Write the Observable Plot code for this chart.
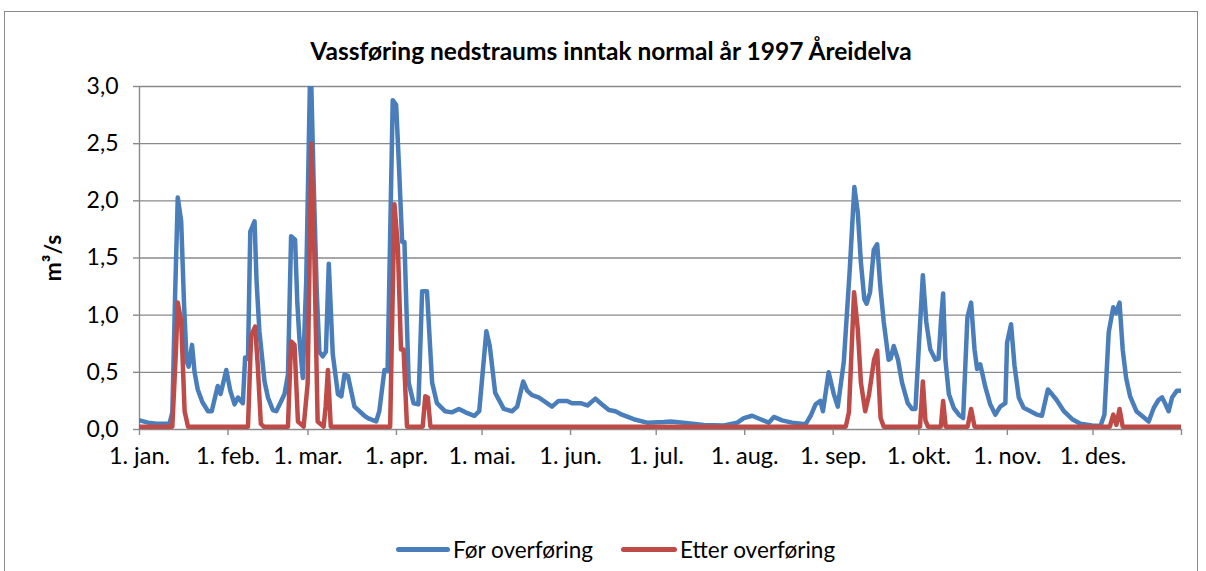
<!DOCTYPE html>
<html><head><meta charset="utf-8">
<script src="https://cdn.jsdelivr.net/npm/d3@7"></script>
<script src="https://cdn.jsdelivr.net/npm/@observablehq/plot@0.6"></script>
<style>
html,body{margin:0;padding:0;background:#fff;}
#wrap{position:relative;width:1206px;height:571px;overflow:hidden;font-family:Lato,"Open Sans",sans-serif;}
#frame{position:absolute;left:4px;top:11px;width:1194px;height:600px;border:1.5px solid #8a8a8a;box-sizing:border-box;}
#title{position:absolute;left:0;width:1222px;top:36px;text-align:center;font-weight:bold;font-size:24.5px;color:#000;}
#ytitle{position:absolute;left:52px;top:258px;transform:translate(-50%,-50%) rotate(-90deg);font-weight:bold;font-size:23px;white-space:nowrap;}
#chart{position:absolute;left:0;top:0;}
#legend{position:absolute;top:535px;left:0;width:1206px;height:28px;font-size:22.5px;}
.item{position:absolute;top:0;display:flex;align-items:center;height:28px;white-space:nowrap;}
.sw{display:inline-block;height:5px;border-radius:3px;margin-right:3px;}
</style></head>
<body><div id="wrap">
<div id="frame"></div>
<div id="chart"></div>
<div id="title">Vassføring nedstraums inntak normal år 1997 Åreidelva</div>
<div id="ytitle">m³/s</div>
<div id="legend"></div>
</div>
<script>
// Day of year (0 = 1. jan.) and flow values
const seriesNames = ["Før overføring", "Etter overføring"];
const seriesColors = ["#4a7ebb", "#be4b48"];

const beforeDays = [0,3,6,10.5,11.5,12.5,13.4,14.6,15.6,16.5,17.2,18.4,19.3,20.4,22,24,25.3,27.4,28.4,30.4,31.8,33.3,34.5,36.2,37,38,38.8,40.3,41,42,43.8,45,46.7,47.9,49.5,50.8,52,53.1,54.5,55.3,56,57.2,58.4,59.9,61,62.1,63,64.2,65.3,66.3,67.7,69.5,70.7,71.8,73,75.3,78.8,80,82.9,84,85.8,86.9,88.7,89.9,90.9,92,92.8,94.3,96,97.7,99,100.7,102.5,104.2,107,109.4,111.9,114.2,117.3,119,121.5,122.7,124.6,127.6,130.5,132.3,134.4,135.8,137.5,139.8,141.6,144.5,146.8,149.8,151.5,154.5,156.9,159.7,161.5,164.4,166.7,169,173.1,177.8,183.7,186,190.5,197.7,204.7,209.4,211.7,214.6,217.5,220.4,222.2,225.1,228.6,233.3,235.1,236.8,238.5,239.4,241.4,243.2,244.6,246.7,248.8,250.4,251.6,252.7,253.9,254.7,255.9,257.2,258.4,259.5,260.7,262.4,263.1,264.2,265.7,267.1,269.1,270.6,271.8,273.2,274.4,275.6,277,278.8,279.9,280.8,281.5,282.3,283.5,285.2,287,288.5,290,291.3,292.5,293.4,294.5,296.3,298,299.8,301.5,303.3,303.9,305.3,306.5,308,309.7,312.1,314.4,316.1,318.2,319.6,321.2,323.8,326.7,329.6,333.7,336.6,338,339.5,341.1,342.1,343.3,344.4,345.6,347,349.2,351.1,353.5,355.3,357,358.2,359.4,360.5,361.7,363.4,364.6];
const beforeValues = [0.08,0.06,0.05,0.05,0.15,1.2,2.03,1.82,1.1,0.6,0.55,0.74,0.5,0.35,0.24,0.16,0.16,0.38,0.31,0.52,0.34,0.22,0.28,0.23,0.63,0.62,1.73,1.82,1.3,0.86,0.42,0.28,0.17,0.16,0.24,0.31,0.48,1.69,1.66,1.1,0.8,0.45,1.3,3.3,2.17,1.2,0.68,0.64,0.68,1.45,0.66,0.31,0.29,0.48,0.47,0.2,0.12,0.1,0.07,0.16,0.52,0.51,2.88,2.84,2.3,1.64,1.64,0.41,0.23,0.22,1.21,1.21,0.41,0.23,0.16,0.15,0.18,0.15,0.12,0.16,0.86,0.73,0.32,0.18,0.16,0.2,0.42,0.34,0.3,0.28,0.25,0.2,0.25,0.25,0.23,0.23,0.21,0.27,0.23,0.17,0.16,0.13,0.09,0.06,0.065,0.07,0.06,0.04,0.035,0.06,0.1,0.12,0.09,0.06,0.11,0.08,0.06,0.045,0.12,0.22,0.25,0.16,0.5,0.31,0.2,0.59,1.4,2.12,1.9,1.46,1.14,1.1,1.2,1.57,1.62,1.25,0.94,0.61,0.62,0.73,0.61,0.41,0.23,0.18,0.18,0.82,1.35,0.94,0.7,0.61,0.62,0.97,1.19,0.61,0.31,0.19,0.13,0.1,0.98,1.11,0.7,0.53,0.57,0.37,0.22,0.13,0.2,0.23,0.76,0.92,0.56,0.28,0.19,0.16,0.13,0.12,0.35,0.31,0.26,0.16,0.09,0.05,0.035,0.03,0.13,0.85,1.07,1.02,1.11,0.7,0.45,0.29,0.16,0.12,0.07,0.19,0.26,0.28,0.22,0.16,0.28,0.34,0.34];

const afterDays = [0,11.5,12.8,13.4,14.6,15.8,17,38,39.1,40.5,41.4,42.5,43.5,52,53.1,54.3,55.5,57.5,58.9,60.2,61.2,62.4,64.5,65.2,66,67,87.8,89.3,90.5,91.6,92.5,93.7,99.2,100.1,101,101.9,247.4,248.5,250.3,251.6,252.7,254.2,255.5,257.3,258.4,259.6,260.7,273.4,274.4,275.3,276.2,280.7,281.5,282.4,290.1,291.3,292.5,339.9,341.1,342.2,343.3,344.4,365];
const afterValues = [0.025,0.025,0.71,1.11,0.95,0.16,0.025,0.025,0.82,0.9,0.57,0.05,0.025,0.025,0.77,0.74,0.07,0.025,0.4,2.5,1.59,0.07,0.025,0.2,0.52,0.025,0.025,1.97,1.6,0.7,0.7,0.025,0.025,0.29,0.28,0.025,0.025,0.15,1.2,0.88,0.41,0.16,0.3,0.61,0.69,0.1,0.025,0.025,0.42,0.08,0.025,0.025,0.25,0.025,0.025,0.18,0.025,0.025,0.13,0.04,0.18,0.025,0.025];

const monthStarts = [0,31,59,90,120,151,181,212,243,273,304,334,365];
const monthLabels = ["1. jan.","1. feb.","1. mar.","1. apr.","1. mai.","1. jun.","1. jul.","1. aug.","1. sep.","1. okt.","1. nov.","1. des.",""];
const yTicks = [0,0.5,1,1.5,2,2.5,3];

const before = beforeDays.map((d,i)=>({day:d, value:beforeValues[i]}));
const after = afterDays.map((d,i)=>({day:d, value:afterValues[i]}));
const labelOf = new Map(monthStarts.map((d,i)=>[d, monthLabels[i]]));
const grid = "#8a8a8a";

const chart = Plot.plot({
  width:1206, height:480,
  marginLeft:139, marginRight:25, marginTop:86, marginBottom:51,
  style:{fontFamily:"Lato, 'Open Sans', sans-serif", fontSize:"23px", color:"#000", background:"transparent"},
  x:{domain:[0,365]},
  y:{domain:[0,3]},
  marks:[
    Plot.ruleY(yTicks, {stroke:grid, strokeWidth:1.4}),
    Plot.axisY({ticks:yTicks, tickFormat:d=>d.toFixed(1).replace(".", ","), tickSize:6, tickPadding:15, stroke:grid, strokeWidth:1.4, label:null, fontSize:23}),
    Plot.axisX({ticks:monthStarts, tickFormat:d=>labelOf.get(d) ?? "", tickSize:6, tickPadding:12, stroke:grid, strokeWidth:1.4, label:null, fontSize:23.5}),
    Plot.ruleX([0], {stroke:grid, strokeWidth:1.4}),
    Plot.line(before, {x:"day", y:"value", stroke:seriesColors[0], strokeWidth:4.5, clip:true, strokeLinejoin:"round"}),
    Plot.line(after, {x:"day", y:"value", stroke:seriesColors[1], strokeWidth:4.5, clip:true, strokeLinejoin:"round"})
  ]
});
document.getElementById("chart").appendChild(chart);

const legend = document.getElementById("legend");
const lx = [396, 621], sw = [54, 56];
seriesNames.forEach((n,i)=>{
  const it = document.createElement("div");
  it.className = "item"; it.style.left = lx[i] + "px";
  it.innerHTML = `<span class="sw" style="width:${sw[i]}px;background:${seriesColors[i]}"></span><span>${n}</span>`;
  legend.appendChild(it);
});
</script>
</body></html>
